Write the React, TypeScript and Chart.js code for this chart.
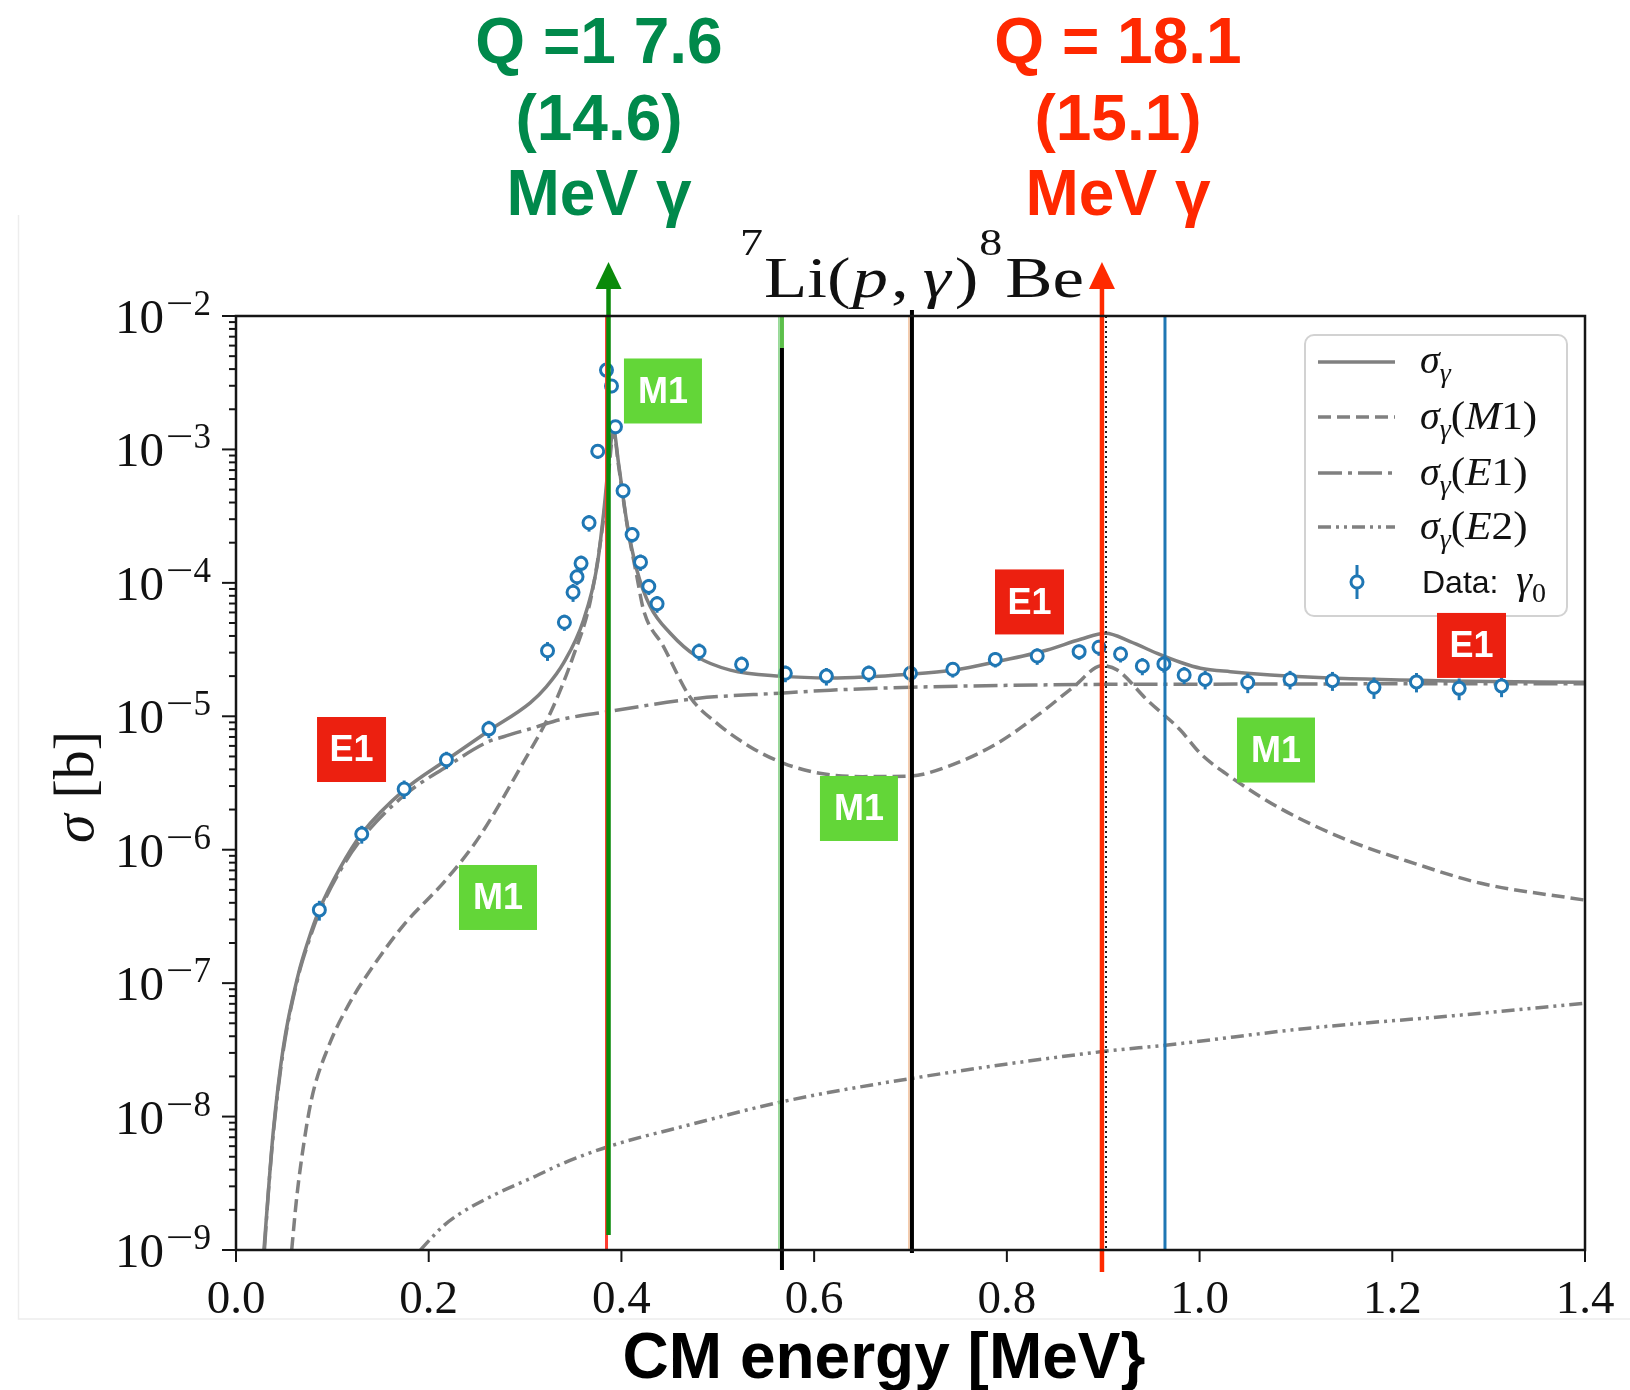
import React, { useEffect, useRef } from 'react';
import { Chart, registerables } from 'chart.js';

Chart.register(...registerables);

// ---------- data (CM energy in MeV, cross section in barn) ----------
const totalE = [0.029, 0.0336, 0.0388, 0.049, 0.0647, 0.075, 0.0865, 0.1078, 0.1305, 0.175, 0.218, 0.262, 0.3053, 0.322, 0.34, 0.3607, 0.3746, 0.3815, 0.3867, 0.3918, 0.397, 0.4058, 0.416, 0.43, 0.4507, 0.4784, 0.513, 0.565, 0.617, 0.70, 0.745, 0.79, 0.842, 0.8765, 0.9025, 0.928, 0.956, 0.98, 1.001, 1.032, 1.118, 1.257, 1.4];
const totalSigma = [1.0e-9, 2.75e-9, 7.9e-9, 3.27e-8, 1.17e-7, 2.09e-7, 3.55e-7, 7.24e-7, 1.32e-6, 2.82e-6, 4.68e-6, 7.76e-6, 1.26e-5, 1.66e-5, 2.51e-5, 5.27e-5, 1.32e-4, 3.32e-4, 7.87e-4, 1.40e-3, 7.87e-4, 2.79e-4, 1.25e-4, 6.62e-5, 4.19e-5, 2.80e-5, 2.22e-5, 2.0e-5, 1.94e-5, 2.07e-5, 2.22e-5, 2.57e-5, 3.14e-5, 3.78e-5, 4.19e-5, 3.63e-5, 2.96e-5, 2.54e-5, 2.29e-5, 2.16e-5, 1.96e-5, 1.84e-5, 1.80e-5];

const m1E = [0.0578, 0.0625, 0.068, 0.0784, 0.0957, 0.1178, 0.142, 0.1733, 0.2186, 0.2532, 0.2982, 0.326, 0.35, 0.3676, 0.38, 0.387, 0.3918, 0.397, 0.406, 0.416, 0.423, 0.4437, 0.471, 0.4992, 0.5333, 0.5684, 0.6057, 0.6507, 0.70, 0.738, 0.79, 0.8345, 0.8696, 0.899, 0.9146, 0.9458, 0.98, 1.0008, 1.032, 1.0837, 1.1535, 1.2227, 1.292, 1.399];
const m1Sigma = [1.0e-9, 2.29e-9, 4.79e-9, 1.35e-8, 3.31e-8, 7.08e-8, 1.33e-7, 2.69e-7, 6.03e-7, 1.27e-6, 4.52e-6, 1.05e-5, 2.82e-5, 7.24e-5, 2.51e-4, 7.08e-4, 1.35e-3, 7.59e-4, 2.69e-4, 1.12e-4, 6.25e-5, 3.33e-5, 1.40e-5, 8.85e-6, 5.92e-6, 4.44e-6, 3.74e-6, 3.53e-6, 3.57e-6, 4.19e-6, 6.27e-6, 1.05e-5, 1.67e-5, 2.40e-5, 2.22e-5, 1.32e-5, 7.89e-6, 5.27e-6, 3.52e-6, 2.04e-6, 1.18e-6, 7.91e-7, 5.60e-7, 4.20e-7];

const e1E = [0.0295, 0.0336, 0.0388, 0.049, 0.0647, 0.075, 0.0865, 0.1078, 0.13, 0.175, 0.218, 0.262, 0.2776, 0.3088, 0.3365, 0.385, 0.478, 0.5646, 0.617, 0.70, 0.8765, 1.0, 1.2, 1.4];
const e1Sigma = [1.0e-9, 2.7e-9, 7.6e-9, 3.1e-8, 1.13e-7, 2.0e-7, 3.4e-7, 6.9e-7, 1.2e-6, 2.57e-6, 4.17e-6, 6.46e-6, 7.03e-6, 8.2e-6, 9.44e-6, 1.08e-5, 1.36e-5, 1.49e-5, 1.57e-5, 1.65e-5, 1.73e-5, 1.74e-5, 1.75e-5, 1.75e-5];

const e2E = [0.1915, 0.2, 0.215, 0.2297, 0.2698, 0.31, 0.3365, 0.386, 0.470, 0.5664, 0.7026, 0.899, 0.967, 1.111, 1.2715, 1.4];
const e2Sigma = [1.0e-9, 1.17e-9, 1.51e-9, 1.82e-9, 2.63e-9, 3.55e-9, 4.37e-9, 5.94e-9, 8.65e-9, 1.29e-8, 1.94e-8, 3.07e-8, 3.44e-8, 4.58e-8, 5.77e-8, 7.08e-8];

const dataE = [0.0865, 0.1305, 0.1745, 0.2184, 0.2624, 0.3233, 0.3408, 0.3498, 0.3539, 0.3581, 0.3664, 0.3754, 0.3845, 0.3897, 0.3938, 0.4017, 0.4111, 0.4198, 0.4284, 0.4370, 0.4806, 0.5247, 0.5701, 0.6127, 0.6567, 0.700, 0.7439, 0.788, 0.8315, 0.875, 0.8956, 0.918, 0.9406, 0.963, 0.984, 1.0058, 1.050, 1.0939, 1.1379, 1.181, 1.2251, 1.2694, 1.3134];
const dataSigma = [3.54e-7, 1.31e-6, 2.85e-6, 4.72e-6, 8.05e-6, 3.1e-5, 5.07e-5, 8.5e-5, 1.11e-4, 1.40e-4, 2.82e-4, 9.7e-4, 3.93e-3, 2.99e-3, 1.48e-3, 4.9e-4, 2.3e-4, 1.43e-4, 9.4e-5, 6.97e-5, 3.06e-5, 2.45e-5, 2.1e-5, 2.0e-5, 2.1e-5, 2.1e-5, 2.25e-5, 2.67e-5, 2.83e-5, 3.05e-5, 3.29e-5, 2.93e-5, 2.38e-5, 2.47e-5, 2.04e-5, 1.89e-5, 1.79e-5, 1.89e-5, 1.85e-5, 1.65e-5, 1.81e-5, 1.62e-5, 1.69e-5];
const dataErr = [0.6e-7, 0.2e-6, 0.45e-6, 0.7e-6, 1.2e-6, 0.5e-5, 0.7e-5, 1.3e-5, 0.15e-4, 0.2e-4, 0.4e-4, 1.2e-4, 0.5e-3, 0.35e-3, 0.18e-3, 0.6e-4, 0.3e-4, 0.2e-4, 1.3e-5, 1.0e-5, 0.45e-5, 0.35e-5, 0.3e-5, 0.3e-5, 0.3e-5, 0.3e-5, 0.3e-5, 0.35e-5, 0.4e-5, 0.4e-5, 0.45e-5, 0.4e-5, 0.35e-5, 0.35e-5, 0.3e-5, 0.3e-5, 0.3e-5, 0.3e-5, 0.3e-5, 0.3e-5, 0.3e-5, 0.3e-5, 0.3e-5];

const xTickValues = [0, 0.2, 0.4, 0.6, 0.8, 1.0, 1.2, 1.4];
const xTickLabels = ['0.0', '0.2', '0.4', '0.6', '0.8', '1.0', '1.2', '1.4'];
const yTickExponents = [-2, -3, -4, -5, -6, -7, -8, -9];

// marked energies (MeV)
const greenArrowE = 0.3866;
const redArrowE = 0.8987;
const blackLineE = [0.5666, 0.7015];
const dottedLineE = 0.9029;
const blueLineE = 0.9641;

// multipole tags: label, energy and log10(sigma) of the tag centre
const tagLabels = ['M1', 'M1', 'M1', 'M1', 'E1', 'E1', 'E1'];
const tagE = [0.4431, 0.6465, 0.2719, 1.0793, 0.1199, 0.8235, 1.2822];
const tagLogSigma = [-2.562, -5.691, -6.358, -5.253, -5.249, -4.143, -4.469];

const greenHeader = ['Q =1 7.6', '(14.6)', 'MeV γ'];
const redHeader = ['Q = 18.1', '(15.1)', 'MeV γ'];

// ---------- styling ----------
const SERIF = '"Liberation Serif", "DejaVu Serif", serif';
const SANS = '"Liberation Sans", Arial, sans-serif';
const CURVE = '#808080';
const BLUE = '#1f77b4';
const GREEN_TXT = '#00894B';
const RED_TXT = '#FF2800';
const DASH_M1 = [13, 6];
const DASH_E1 = [24, 6, 4, 6];
const DASH_E2 = [13, 5, 3, 5, 3, 5];

type Run = { t: string; f: string; dy?: number; g?: number; sx?: number };
// draws text pieces in a row; if targetWidth is given, pieces are stretched horizontally to fill it
function drawRuns(ctx: CanvasRenderingContext2D, runs: Run[], x: number, y: number, align: 'left' | 'center' | 'right', targetWidth = 0) {
  let natural = 0;
  let gaps = 0;
  const widths = runs.map((r) => {
    ctx.font = r.f;
    const w = ctx.measureText(r.t).width * (r.sx || 1);
    natural += w;
    gaps += r.g || 0;
    return w;
  });
  const k = targetWidth > 0 ? (targetWidth - gaps) / natural : 1;
  const total = natural * k + gaps;
  let cx = align === 'left' ? x : align === 'center' ? x - total / 2 : x - total;
  ctx.textAlign = 'left';
  ctx.textBaseline = 'alphabetic';
  runs.forEach((r, i) => {
    ctx.font = r.f;
    ctx.save();
    ctx.translate(cx, y + (r.dy || 0));
    ctx.scale(k * (r.sx || 1), 1);
    ctx.fillText(r.t, 0, 0);
    ctx.restore();
    cx += widths[i] * k + (r.g || 0);
  });
}

function vline(ctx: CanvasRenderingContext2D, x: number, y1: number, y2: number, color: string, w: number, dash: number[] = []) {
  ctx.save();
  ctx.strokeStyle = color;
  ctx.lineWidth = w;
  ctx.setLineDash(dash);
  ctx.beginPath();
  ctx.moveTo(x, y1);
  ctx.lineTo(x, y2);
  ctx.stroke();
  ctx.restore();
}

function arrowUp(ctx: CanvasRenderingContext2D, x: number, yBottom: number, yTip: number, color: string) {
  vline(ctx, x, yBottom, yTip + 20, color, 4.5);
  ctx.save();
  ctx.fillStyle = color;
  ctx.beginPath();
  ctx.moveTo(x, yTip);
  ctx.lineTo(x - 13, yTip + 27);
  ctx.lineTo(x + 13, yTip + 27);
  ctx.closePath();
  ctx.fill();
  ctx.restore();
}

const decorPlugin = {
  id: 'decor',
  beforeDraw(chart: any) {
    const ctx: CanvasRenderingContext2D = chart.ctx;
    ctx.save();
    ctx.fillStyle = '#ffffff';
    ctx.fillRect(0, 0, chart.width, chart.height);
    ctx.strokeStyle = '#ededed';
    ctx.lineWidth = 1.5;
    ctx.beginPath();
    ctx.moveTo(18.5, 215);
    ctx.lineTo(18.5, 1319);
    ctx.lineTo(1630, 1319);
    ctx.stroke();
    ctx.restore();
  },
  beforeDatasetDraw(chart: any, args: any) {
    if (args.index !== 0) return;
    const ctx: CanvasRenderingContext2D = chart.ctx;
    const { x, y } = chart.scales;
    ctx.save();
    ctx.strokeStyle = BLUE;
    ctx.lineWidth = 3;
    dataE.forEach((e, i) => {
      const px = x.getPixelForValue(e);
      const y1 = y.getPixelForValue(dataSigma[i] + dataErr[i]);
      const y2 = y.getPixelForValue(Math.max(dataSigma[i] - dataErr[i], 1e-12));
      ctx.beginPath();
      ctx.moveTo(px, y1);
      ctx.lineTo(px, y2);
      ctx.stroke();
    });
    ctx.restore();
  },
  afterDatasetsDraw(chart: any) {
    const ctx: CanvasRenderingContext2D = chart.ctx;
    const { x, y } = chart.scales;
    const a = chart.chartArea;

    // --- vertical marker lines ---
    const gx = x.getPixelForValue(greenArrowE);
    vline(ctx, gx - 2, a.bottom, a.top, '#ff3b2f', 3);
    const rx = x.getPixelForValue(redArrowE);
    const b1 = x.getPixelForValue(blackLineE[0]);
    vline(ctx, b1 - 3, a.top, a.bottom, '#7fd07f', 1.5);
    vline(ctx, b1, a.top, a.top + 32, '#5cbf4a', 4);
    vline(ctx, b1, a.top + 32, a.bottom + 20, '#000000', 4);
    const b2 = x.getPixelForValue(blackLineE[1]);
    vline(ctx, b2 - 3, a.top, a.bottom, '#f0b080', 1.2);
    vline(ctx, b2, a.top - 6, a.bottom + 3, '#000000', 4);
    const dx = x.getPixelForValue(dottedLineE);
    vline(ctx, dx, a.top, a.bottom, '#222222', 2, [2, 3]);
    const bx = x.getPixelForValue(blueLineE);
    vline(ctx, bx, a.top, a.bottom, BLUE, 3);
    arrowUp(ctx, gx, a.bottom - 15, 262, '#0a8a0a');
    arrowUp(ctx, rx, a.bottom + 22, 262, '#ff2a00');

    // --- frame ---
    ctx.save();
    ctx.strokeStyle = '#151515';
    ctx.lineWidth = 2.5;
    ctx.strokeRect(a.left, a.top, a.right - a.left, a.bottom - a.top);

    // y ticks
    ctx.lineWidth = 2;
    yTickExponents.forEach((n) => {
      const py = y.getPixelForValue(Math.pow(10, n));
      ctx.beginPath();
      ctx.moveTo(a.left - 14, py);
      ctx.lineTo(a.left, py);
      ctx.stroke();
      if (n > -9) {
        for (let k = 2; k <= 9; k++) {
          const my = y.getPixelForValue(k * Math.pow(10, n - 1));
          ctx.beginPath();
          ctx.moveTo(a.left - 7, my);
          ctx.lineTo(a.left, my);
          ctx.stroke();
        }
      }
    });
    // x ticks
    xTickValues.forEach((v) => {
      const px = x.getPixelForValue(v);
      ctx.beginPath();
      ctx.moveTo(px, a.bottom);
      ctx.lineTo(px, a.bottom + 12);
      ctx.stroke();
    });

    // tick labels
    ctx.fillStyle = '#111111';
    yTickExponents.forEach((n) => {
      const py = y.getPixelForValue(Math.pow(10, n));
      const right = a.left - 25;
      drawRuns(ctx, [{ t: '10', f: `49px ${SERIF}`, g: 1 }], right - 46, py + 17, 'right');
      drawRuns(ctx, [
        { t: '−', f: `35px ${SERIF}`, sx: 1.4, dy: 0 },
        { t: String(Math.abs(n)), f: `35px ${SERIF}` },
      ], right, py - 1, 'right');
    });
    ctx.font = `47px ${SERIF}`;
    ctx.textAlign = 'center';
    xTickValues.forEach((v, i) => {
      ctx.fillText(xTickLabels[i], x.getPixelForValue(v), a.bottom + 63);
    });

    // title
    drawRuns(ctx, [
      { t: '7', f: `37px ${SERIF}`, dy: -42, g: 1 },
      { t: 'Li(', f: `57px ${SERIF}`, g: 2 },
      { t: 'p', f: `italic 57px ${SERIF}`, g: 3 },
      { t: ',', f: `57px ${SERIF}`, g: 14 },
      { t: 'γ', f: `italic 57px ${SERIF}`, g: 4 },
      { t: ')', f: `57px ${SERIF}`, g: 1 },
      { t: '8', f: `37px ${SERIF}`, dy: -42, g: 3 },
      { t: 'Be', f: `57px ${SERIF}` },
    ], 912, 297, 'center', 344);

    // y axis label
    ctx.save();
    ctx.translate(93, 787);
    ctx.rotate(-Math.PI / 2);
    drawRuns(ctx, [
      { t: 'σ', f: `italic 58px ${SERIF}`, g: 16 },
      { t: '[b]', f: `58px ${SERIF}` },
    ], 0, 0, 'center');
    ctx.restore();

    // x axis label
    ctx.fillStyle = '#000000';
    ctx.font = `bold 64px ${SANS}`;
    ctx.textAlign = 'center';
    ctx.fillText('CM energy [MeV}', 884, 1378);

    // headers
    const baselines = [63, 140, 215];
    ctx.font = `bold 64px ${SANS}`;
    ctx.fillStyle = GREEN_TXT;
    greenHeader.forEach((t, i) => ctx.fillText(t, 599, baselines[i]));
    ctx.fillStyle = RED_TXT;
    redHeader.forEach((t, i) => ctx.fillText(t, 1118, baselines[i]));

    // legend
    const lx = 1305, ly = 335, lw = 262, lh = 281;
    ctx.beginPath();
    ctx.roundRect(lx, ly, lw, lh, 9);
    ctx.fillStyle = 'rgba(255,255,255,0.85)';
    ctx.fill();
    ctx.strokeStyle = '#d2d2d2';
    ctx.lineWidth = 2;
    ctx.stroke();
    const rows = [362, 417, 473, 527, 582];
    const dashes = [[], DASH_M1, DASH_E1, DASH_E2];
    dashes.forEach((d, i) => {
      ctx.save();
      ctx.strokeStyle = CURVE;
      ctx.lineWidth = 3.5;
      ctx.setLineDash(d);
      ctx.beginPath();
      ctx.moveTo(1318, rows[i]);
      ctx.lineTo(1395, rows[i]);
      ctx.stroke();
      ctx.restore();
    });
    // data legend marker
    vline(ctx, 1357, rows[4] - 17, rows[4] + 17, BLUE, 3);
    ctx.beginPath();
    ctx.arc(1357, rows[4], 6, 0, Math.PI * 2);
    ctx.fillStyle = '#ffffff';
    ctx.fill();
    ctx.strokeStyle = BLUE;
    ctx.lineWidth = 3;
    ctx.stroke();

    ctx.fillStyle = '#111111';
    const sig: Run[] = [
      { t: 'σ', f: `italic 40px ${SERIF}` },
      { t: 'γ', f: `italic 28px ${SERIF}`, dy: 9 },
    ];
    drawRuns(ctx, sig, 1420, rows[0] + 11, 'left');
    const multi = [['M', '1'], ['E', '1'], ['E', '2']];
    multi.forEach((m, i) => {
      drawRuns(ctx, [
        ...sig,
        { t: '(', f: `40px ${SERIF}`, sx: 1.08 },
        { t: m[0], f: `italic 40px ${SERIF}`, sx: 1.08 },
        { t: m[1], f: `40px ${SERIF}`, sx: 1.08 },
        { t: ')', f: `40px ${SERIF}`, sx: 1.08 },
      ], 1420, rows[i + 1] + 12, 'left');
    });
    drawRuns(ctx, [
      { t: 'Data:  ', f: `32px ${SANS}` },
      { t: 'γ', f: `italic 40px ${SERIF}` },
      { t: '0', f: `28px ${SERIF}`, dy: 9 },
    ], 1422, rows[4] + 11, 'left');

    // multipole tags
    tagLabels.forEach((lab, i) => {
      const cx = x.getPixelForValue(tagE[i]);
      const cy = y.getPixelForValue(Math.pow(10, tagLogSigma[i]));
      const w = lab === 'M1' ? 78 : 69;
      const h = 65;
      ctx.fillStyle = lab === 'M1' ? '#63D638' : '#EC2010';
      ctx.fillRect(cx - w / 2, cy - h / 2, w, h);
      ctx.fillStyle = '#ffffff';
      ctx.font = `bold 36px ${SANS}`;
      ctx.textAlign = 'center';
      ctx.textBaseline = 'middle';
      ctx.fillText(lab, cx, cy + 2);
    });
    ctx.restore();
  },
};

function pts(xs: number[], ys: number[]) {
  return xs.map((v, i) => ({ x: v, y: ys[i] }));
}

export default function App() {
  const ref = useRef<HTMLCanvasElement>(null);
  useEffect(() => {
    const lineBase = {
      showLine: true,
      pointRadius: 0,
      borderColor: CURVE,
      borderWidth: 3.5,
      cubicInterpolationMode: 'monotone' as const,
      fill: false,
    };
    const chart = new Chart(ref.current as HTMLCanvasElement, {
      type: 'scatter',
      data: {
        datasets: [
          {
            label: 'Data: γ0',
            data: pts(dataE, dataSigma),
            showLine: false,
            pointRadius: 6,
            pointBorderWidth: 3,
            pointBorderColor: BLUE,
            pointBackgroundColor: '#ffffff',
            borderColor: BLUE,
            backgroundColor: '#ffffff',
          },
          { ...lineBase, label: 'σγ', data: pts(totalE, totalSigma) },
          { ...lineBase, label: 'σγ(M1)', data: pts(m1E, m1Sigma), borderDash: DASH_M1 },
          { ...lineBase, label: 'σγ(E1)', data: pts(e1E, e1Sigma), borderDash: DASH_E1 },
          { ...lineBase, label: 'σγ(E2)', data: pts(e2E, e2Sigma), borderDash: DASH_E2 },
        ],
      },
      options: {
        responsive: false,
        devicePixelRatio: 1,
        animation: false,
        layout: { padding: { left: 236, right: 45, top: 316, bottom: 140 } },
        scales: {
          x: { type: 'linear', min: 0, max: 1.4, display: false },
          y: { type: 'logarithmic', min: 1e-9, max: 1e-2, display: false },
        },
        plugins: {
          legend: { display: false },
          title: { display: false },
          tooltip: { enabled: false },
        },
      },
      plugins: [decorPlugin],
    });
    return () => chart.destroy();
  }, []);
  return (
    <div style={{ position: 'absolute', left: 0, top: 0, width: 1630, height: 1390, background: '#ffffff' }}>
      <canvas ref={ref} width={1630} height={1390} style={{ width: 1630, height: 1390, display: 'block' }} />
    </div>
  );
}
